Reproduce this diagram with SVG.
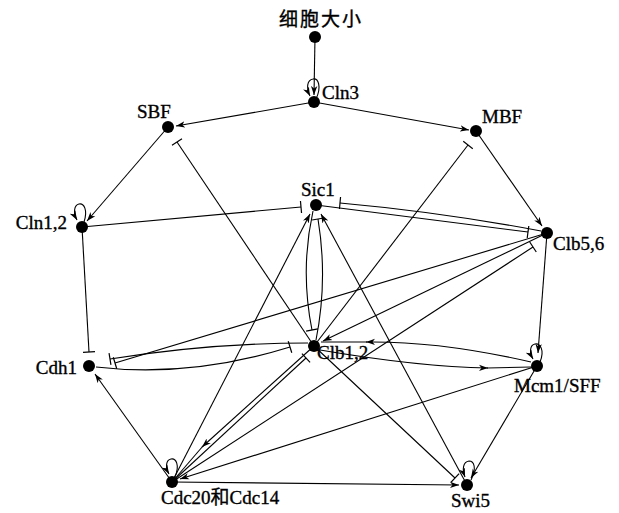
<svg xmlns="http://www.w3.org/2000/svg" width="619" height="513" viewBox="0 0 619 513">
  <defs>
    <marker id="arr" viewBox="0 0 10 8" refX="9" refY="4" markerWidth="10" markerHeight="8" markerUnits="userSpaceOnUse" orient="auto">
      <path d="M0,0.8 L9,4 L0,7.2 L2.5,4 Z" fill="#000"/>
    </marker>
    <marker id="bar" viewBox="0 0 4 14" refX="2" refY="7" markerWidth="4" markerHeight="14" markerUnits="userSpaceOnUse" orient="auto">
      <line x1="2" y1="1" x2="2" y2="13" stroke="#000" stroke-width="1.2"/>
    </marker>
  </defs>
  <style>
    .e { fill: none; stroke: #000; stroke-width: 1.1; }
    .a { marker-end: url(#arr); }
    .t { marker-end: url(#bar); }
    .dot { fill: #000; }
    text { font-family: "Liberation Serif", "Noto Sans CJK SC", serif; font-size: 19px; fill: #000; stroke: #000; stroke-width: 0.35; }
  </style>
  <rect width="619" height="513" fill="#fff"/>

  <g id="edges">
    <!-- activations -->
    <path class="e a" d="M315,37 L314,95"/>
    <path class="e a" d="M314,102 L176,126"/>
    <path class="e a" d="M314,102 L469,130"/>
    <path class="e a" d="M168,127 L87,221"/>
    <path class="e a" d="M476,131 L542,226"/>
    <path class="e a" d="M547,233 L538,353"/>
    <path class="e a" d="M537,366 L471,478"/>
    <path class="e a" d="M537,366 L180,479"/>
    <path class="e a" d="M172,482 L459,485"/>
    <path class="e a" d="M172,482 L95,374"/>
    <path class="e a" d="M172,482 L310,214"/>
    <path class="e a" d="M467,485 L321,214"/>
    <path class="e a" d="M547,233 L323,341"/>
    <!-- Clb1,2 to Cdc20/Cdc14, head drawn part-way -->
    <path class="e a" d="M314,346 L202,447"/>
    <path class="e" d="M203,446 L172,482"/>
    <!-- Clb1,2 and Mcm1/SFF, heads drawn part-way -->
    <path class="e a" d="M320,350 Q420,367 488,368"/>
    <path class="e" d="M487,368 L531,367"/>
    <path class="e a" d="M531,362 Q440,341 366,342"/>
    <path class="e" d="M367,342 L321,342"/>
    <!-- inhibitions -->
    <path class="e t" d="M82,227 L301,207"/>
    <path class="e t" d="M541,231 Q440,212 340,203"/>
    <path class="e t" d="M316,205 L528,232"/>
    <path class="e t" d="M82,227 L89,352"/>
    <path class="e t" d="M547,233 L115,363"/>
    <path class="e t" d="M96,367 Q190,378 290,347"/>
    <path class="e t" d="M308,343 Q210,343 110,359"/>
    <path class="e t" d="M314,346 L177,142"/>
    <path class="e t" d="M314,346 L468,145"/>
    <path class="e t" d="M313,211 Q300,270 312,330"/>
    <path class="e t" d="M316,340 Q328,280 318,219"/>
    <path class="e t" d="M314,346 L455,478"/>
    <path class="e t" d="M172,482 L306,358"/>
    <path class="e t" d="M172,482 L533,247"/>
    <!-- self loops -->
    <path class="e a" d="M316,99 C322,86 318,78 313,79 C307,80 306,88 310,96"/>
    <path class="e a" d="M84,222 C88,210 84,203 79,204 C74,205 73,213 77,220"/>
    <path class="e a" d="M540,362 C545,350 540,343 535,344 C530,345 529,352 533,359"/>
    <path class="e a" d="M175,477 C180,465 176,458 171,459 C166,460 165,467 169,474"/>
    <path class="e a" d="M471,480 C477,468 474,461 469,461 C463,462 462,469 465,477"/>
  </g>

  <g id="n-size"><circle class="dot" cx="315" cy="37" r="6"/><text x="279" y="26" font-size="17" letter-spacing="2">细胞大小</text></g>
  <g id="n-cln3"><circle class="dot" cx="314" cy="102" r="6"/><text x="322" y="99">Cln3</text></g>
  <g id="n-sbf"><circle class="dot" cx="168" cy="127" r="6"/><text x="137" y="118">SBF</text></g>
  <g id="n-mbf"><circle class="dot" cx="476" cy="131" r="6"/><text x="482" y="123">MBF</text></g>
  <g id="n-sic1"><circle class="dot" cx="316" cy="205" r="6"/><text x="301" y="196">Sic1</text></g>
  <g id="n-cln12"><circle class="dot" cx="82" cy="227" r="6"/><text x="67" y="229" text-anchor="end">Cln1,2</text></g>
  <g id="n-clb56"><circle class="dot" cx="547" cy="233" r="6"/><text x="553" y="250">Clb5,6</text></g>
  <g id="n-cdh1"><circle class="dot" cx="89" cy="366" r="6"/><text x="77" y="374" text-anchor="end">Cdh1</text></g>
  <g id="n-clb12"><circle class="dot" cx="314" cy="346" r="6"/><text x="317" y="359">Clb1,2</text></g>
  <g id="n-mcm1"><circle class="dot" cx="537" cy="366" r="6"/><text x="514" y="392">Mcm1/SFF</text></g>
  <g id="n-cdc20"><circle class="dot" cx="172" cy="482" r="6"/><text x="161" y="504">Cdc20和Cdc14</text></g>
  <g id="n-swi5"><circle class="dot" cx="467" cy="485" r="6"/><text x="451" y="507">Swi5</text></g>
</svg>
